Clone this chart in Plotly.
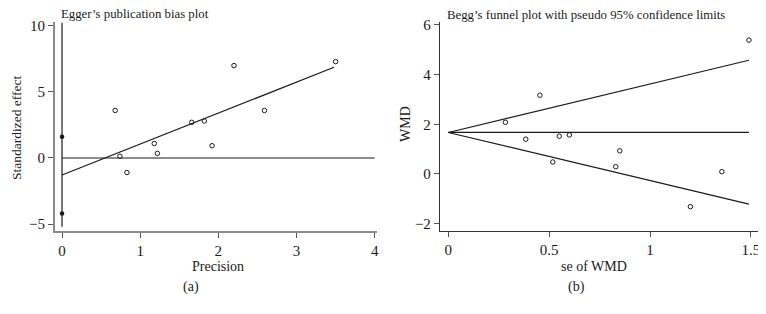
import plotly.graph_objects as go

# ---- Data ----
egger_precision = [0.68, 0.74, 0.83, 1.18, 1.22, 1.66, 1.82, 1.92, 2.20, 2.59, 3.50]
egger_effect = [3.6, 0.13, -1.1, 1.1, 0.35, 2.7, 2.8, 0.93, 7.0, 3.6, 7.3]
egger_ci_x = [0, 0]
egger_ci_y = [1.6, -4.2]
egger_fit_x = [0, 3.48]
egger_fit_y = [-1.29, 6.87]
egger_ref_x = [0, 4]
egger_ref_y = [0, 0]
egger_vline_y = [10.25, -5.2]

begg_se = [0.283, 0.384, 0.454, 0.518, 0.55, 0.60, 0.83, 0.85, 1.20, 1.356, 1.49]
begg_wmd = [2.08, 1.40, 3.17, 0.48, 1.52, 1.57, 0.29, 0.93, -1.32, 0.09, 5.39]
begg_line_x = [0, 1.49]
begg_pooled = [1.67, 1.67]
begg_upper = [1.67, 4.58]
begg_lower = [1.67, -1.22]

FONT = "Liberation Serif"
BLACK = "#1a1a1a"

# page body has an 8px margin: figure is laid out in page pixels minus offset
OFF = 8
W, H = 766 - OFF, 314 - OFF

def px(X):
    return (X - OFF) / W

def py(Y):
    return 1 - (Y - OFF) / H

fig = go.Figure()

# Panel (a)
fig.add_trace(go.Scatter(x=[0, 0], y=egger_vline_y, mode="lines",
                         line=dict(color=BLACK, width=1.2), xaxis="x", yaxis="y"))
fig.add_trace(go.Scatter(x=egger_ref_x, y=egger_ref_y, mode="lines",
                         line=dict(color=BLACK, width=1.2), xaxis="x", yaxis="y"))
fig.add_trace(go.Scatter(x=egger_fit_x, y=egger_fit_y, mode="lines",
                         line=dict(color=BLACK, width=1.2), xaxis="x", yaxis="y"))
fig.add_trace(go.Scatter(x=egger_ci_x, y=egger_ci_y, mode="markers",
                         marker=dict(color=BLACK, size=4.5), xaxis="x", yaxis="y"))
fig.add_trace(go.Scatter(x=egger_precision, y=egger_effect, mode="markers",
                         marker=dict(symbol="circle-open", color=BLACK, size=4.5,
                                     line=dict(width=1)), xaxis="x", yaxis="y"))

# Panel (b)
for yy in (begg_pooled, begg_upper, begg_lower):
    fig.add_trace(go.Scatter(x=begg_line_x, y=yy, mode="lines",
                             line=dict(color=BLACK, width=1.2), xaxis="x2", yaxis="y2"))
fig.add_trace(go.Scatter(x=begg_se, y=begg_wmd, mode="markers",
                         marker=dict(symbol="circle-open", color=BLACK, size=4.5,
                                     line=dict(width=1)), xaxis="x2", yaxis="y2"))

ydom = [py(231), py(22)]
tickfont = dict(family=FONT, size=15, color=BLACK)
axcommon = dict(showgrid=False, zeroline=False, ticks="outside", ticklen=5,
                tickcolor="#555", tickfont=tickfont, showline=True,
                automargin=False, layer="below traces")

fig.update_layout(
    width=W, height=H,
    margin=dict(l=0, r=0, t=0, b=0, autoexpand=False),
    paper_bgcolor="white", plot_bgcolor="white",
    showlegend=False,
    xaxis=dict(domain=[px(55), px(377)], range=[-0.09, 4.03],
               tickvals=[0, 1, 2, 3, 4], anchor="y", ticklabelstandoff=0,
               linecolor="#8a8a8a", linewidth=2, **axcommon),
    yaxis=dict(domain=ydom, range=[-5.53, 10.3], tickvals=[-5, 0, 5, 10],
               anchor="x", linecolor="#8a8a8a", linewidth=2, **axcommon),
    xaxis2=dict(domain=[px(440), px(758)], range=[-0.041, 1.535],
                tickvals=[0, 0.5, 1, 1.5], ticktext=["0", "0.5", "1", "1.5"],
                anchor="y2", ticklabelstandoff=0,
                linecolor="#333", linewidth=1.3, **axcommon),
    yaxis2=dict(domain=ydom, range=[-2.3, 6.12], tickvals=[-2, 0, 2, 4, 6],
                anchor="x2", linecolor="#333", linewidth=1.3, **axcommon),
)

def ann(text, x, y, size=14, angle=0, xanchor="center"):
    fig.add_annotation(text=text, x=px(x), y=py(y), xref="paper", yref="paper",
                       showarrow=False, textangle=angle, xanchor=xanchor, yanchor="middle",
                       font=dict(family=FONT, size=size, color=BLACK))

ann("Egger’s publication bias plot", 59, 14, size=12.8, xanchor="left")
ann("Begg’s funnel plot with pseudo 95% confidence limits", 445, 15, size=12.8, xanchor="left")
ann("Precision", 218, 266)
ann("se of WMD", 594, 266)
ann("Standardized effect", 17, 128, size=13.5, angle=-90)
ann("WMD", 405, 124, angle=-90)
ann("(a)", 191, 287)
ann("(b)", 576, 287)

fig.write_html("out.html")
